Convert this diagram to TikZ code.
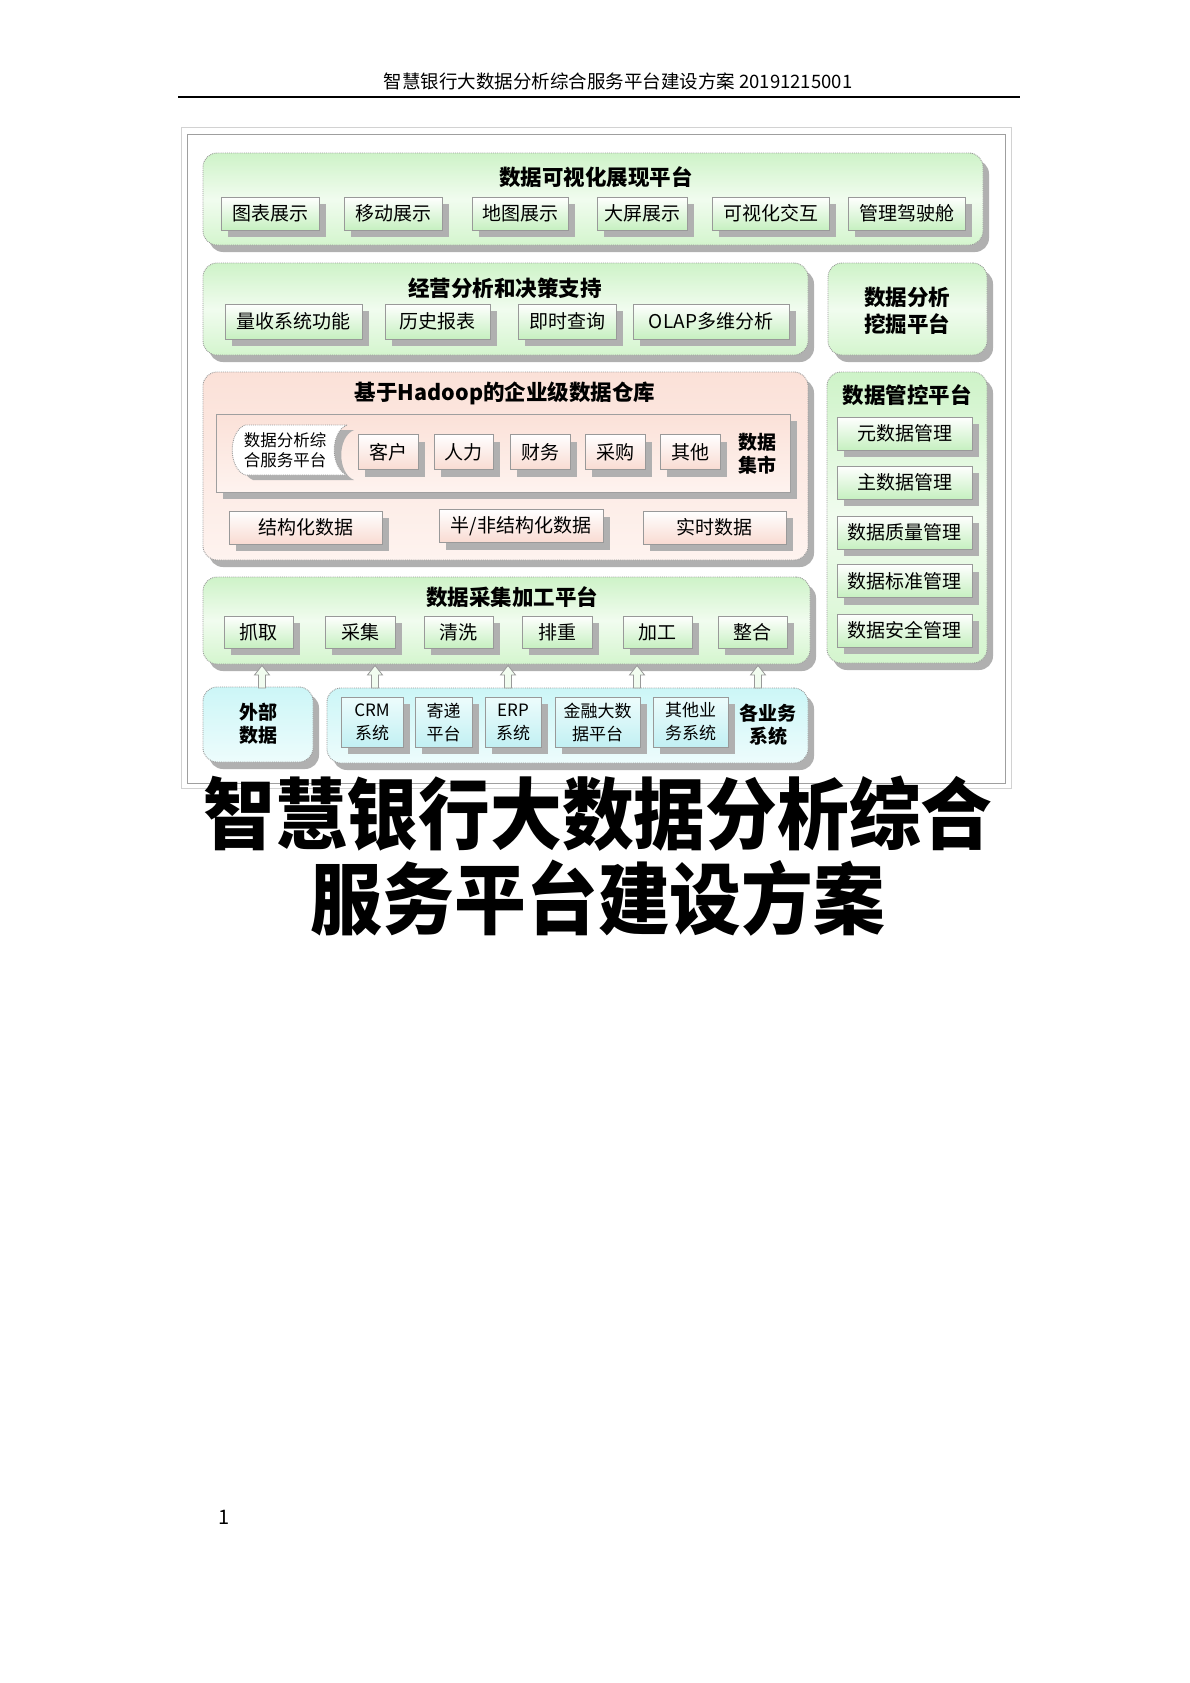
\documentclass[tikz,border=0pt]{standalone}
\usepackage{fontspec}
\setmainfont{Noto Sans CJK SC}
\usetikzlibrary{shadows,fit}

\definecolor{grntop}{RGB}{206,243,200}
\definecolor{grnmid}{RGB}{241,252,239}
\definecolor{grnbot}{RGB}{212,245,206}
\definecolor{grnbox}{RGB}{198,240,192}
\definecolor{pnktop}{RGB}{251,225,216}
\definecolor{pnkbot}{RGB}{254,243,239}
\definecolor{pnkbox}{RGB}{249,219,210}
\definecolor{cyntop}{RGB}{204,246,247}
\definecolor{cynbot}{RGB}{237,252,252}
\definecolor{cynbox}{RGB}{194,240,243}
\definecolor{shadowgray}{RGB}{176,176,176}

\tikzset{
  panel/.style={draw=gray!80, densely dotted, line width=0.9pt, rounded corners=14pt, inner sep=0pt,
    drop shadow={shadow xshift=6pt, shadow yshift=-7pt, fill=shadowgray, opacity=1}},
  greenpanel/.style={panel, top color=grntop, bottom color=grnbot, middle color=grnmid},
  pinkpanel/.style={panel, top color=pnktop, bottom color=pnkbot},
  cyanpanel/.style={panel, top color=cyntop, bottom color=cynbot},
  box/.style={draw=gray!80, solid, line width=0.9pt, inner sep=0pt, font=\fontsize{19}{22}\selectfont,
    drop shadow={shadow xshift=7pt, shadow yshift=-7pt, fill=shadowgray, opacity=1}},
  greenbox/.style={box, top color=white, bottom color=grnbox},
  pinkbox/.style={box, top color=white, bottom color=pnkbox},
  cyanbox/.style={box, top color=cynbot, bottom color=cynbox, align=center, font=\fontsize{17}{23}\selectfont},
  ptitle/.style={font=\bfseries\fontsize{21.5}{24}\selectfont},
  btext/.style={font=\bfseries\fontsize{19}{23}\selectfont, align=center},
  uparrow/.style={draw=gray!80, fill=grnmid, line width=0.8pt, line join=miter}
}

\begin{document}
\begin{tikzpicture}[x=1pt,y=-1pt]
	\useasboundingbox (0,0) rectangle (1190,1683);
	\fill[white] (0,0) rectangle (1190,1683);

	% page head
	\node[font=\fontsize{18.5}{22}\selectfont] (head) at (618,81) {智慧银行大数据分析综合服务平台建设方案 20191215001};
	\draw[line width=2pt] (178,97) -- (1020,97);

	% picture frame
	\draw[gray!35, line width=1pt] (181,128) rectangle (1011,788);
	\draw[gray!75, line width=1pt] (187,135) rectangle (1005,783);

	% visualisation
	\node[greenpanel, fit={(203,153) (983,245)}] (viz) {};
	\node[ptitle] (viztitle) at (596,177) {数据可视化展现平台};
	\node[greenbox, minimum width=98pt, minimum height=33pt] (chart) at (270,213.5) {图表展示};
	\node[greenbox, minimum width=98pt, minimum height=33pt] (mobile) at (393,213.5) {移动展示};
	\node[greenbox, minimum width=96pt, minimum height=33pt] (map) at (520,213.5) {地图展示};
	\node[greenbox, minimum width=90pt, minimum height=33pt] (screen) at (642,213.5) {大屏展示};
	\node[greenbox, minimum width=117pt, minimum height=33pt] (interact) at (770.5,213.5) {可视化交互};
	\node[greenbox, minimum width=117pt, minimum height=33pt] (cockpit) at (906.5,213.5) {管理驾驶舱};

	% decision support
	\node[greenpanel, fit={(203,263) (808,355)}] (decision) {};
	\node[ptitle] (dectitle) at (505,288) {经营分析和决策支持};
	\node[greenbox, minimum width=137pt, minimum height=35pt] (volume) at (293.5,321.5) {量收系统功能};
	\node[greenbox, minimum width=105pt, minimum height=35pt] (history) at (437.5,321.5) {历史报表};
	\node[greenbox, minimum width=98pt, minimum height=35pt] (query) at (567,321.5) {即时查询};
	\node[greenbox, minimum width=156pt, minimum height=35pt] (olap) at (711,321.5) {OLAP多维分析};

	% mining
	\node[greenpanel, fit={(828,263) (987,355)}] (mining) {};
	\node[ptitle, align=center, font=\bfseries\fontsize{21.5}{27}\selectfont] (mintitle) at (907,311) {数据分析\\挖掘平台};

	% warehouse
	\node[pinkpanel, fit={(203,372) (808,560)}] (warehouse) {};
	\node[ptitle] (whtitle) at (505,393) {基于Hadoop的企业级数据仓库};
	\node[draw=gray!75, line width=0.9pt, inner sep=0pt, top color=pnktop, bottom color=pnkbot,
		drop shadow={shadow xshift=7pt, shadow yshift=-7pt, fill=shadowgray, opacity=1},
		fit={(216,414) (790,492)}] (mart) {};
	\fill[shadowgray] (354,430) -- (253,430) .. controls (236,437) and (236,473) .. (253,480)
		-- (354,480) .. controls (337,473) and (337,437) .. (354,430) -- cycle;
	\draw[gray!80, densely dotted, line width=0.9pt, fill=white] (347,425) -- (245,425)
		.. controls (228,432) and (228,468) .. (245,475) -- (347,475)
		.. controls (330,468) and (330,432) .. (347,425) -- cycle;
	\node[align=center, font=\fontsize{16.5}{20}\selectfont] (platform) at (285,450) {数据分析综\\合服务平台};
	\node[pinkbox, minimum width=60pt, minimum height=35pt] (customer) at (388,452) {客户};
	\node[pinkbox, minimum width=59pt, minimum height=35pt] (staff) at (463.5,452) {人力};
	\node[pinkbox, minimum width=60pt, minimum height=35pt] (finance) at (540,452) {财务};
	\node[pinkbox, minimum width=60pt, minimum height=35pt] (purchase) at (615,452) {采购};
	\node[pinkbox, minimum width=60pt, minimum height=35pt] (other) at (690,452) {其他};
	\node[btext] (marttext) at (757,454) {数据\\集市};
	\node[pinkbox, minimum width=153pt, minimum height=33pt] (struct) at (305.5,527.5) {结构化数据};
	\node[pinkbox, minimum width=164pt, minimum height=33pt] (semi) at (521,526) {半/非结构化数据};
	\node[pinkbox, minimum width=143pt, minimum height=33pt] (realtime) at (714.5,527.5) {实时数据};

	% governance
	\node[greenpanel, fit={(827,372) (987,663)}] (govern) {};
	\node[ptitle] (govtitle) at (907,395) {数据管控平台};
	\node[greenbox, minimum width=135pt, minimum height=33pt] (meta) at (904.5,433.5) {元数据管理};
	\node[greenbox, minimum width=135pt, minimum height=33pt] (master) at (904.5,482.5) {主数据管理};
	\node[greenbox, minimum width=135pt, minimum height=33pt] (quality) at (904.5,532.5) {数据质量管理};
	\node[greenbox, minimum width=135pt, minimum height=33pt] (standard) at (904.5,581) {数据标准管理};
	\node[greenbox, minimum width=135pt, minimum height=33pt] (security) at (904.5,630.5) {数据安全管理};

	% collection
	\node[greenpanel, fit={(203,577) (810,664)}] (collect) {};
	\node[ptitle] (coltitle) at (512,597) {数据采集加工平台};
	\node[greenbox, minimum width=69pt, minimum height=32pt] (grab) at (258.5,632) {抓取};
	\node[greenbox, minimum width=70pt, minimum height=32pt] (gather) at (360,632) {采集};
	\node[greenbox, minimum width=69pt, minimum height=32pt] (clean) at (458.5,632) {清洗};
	\node[greenbox, minimum width=70pt, minimum height=32pt] (dedup) at (557,632) {排重};
	\node[greenbox, minimum width=69pt, minimum height=32pt] (process) at (657.5,632) {加工};
	\node[greenbox, minimum width=69pt, minimum height=32pt] (merge) at (752.5,632) {整合};

	% sources
	\node[cyanpanel, fit={(203,687) (313,762)}] (external) {};
	\node[btext] (exttext) at (258,724) {外部\\数据};
	\node[cyanpanel, fit={(327,688) (808,763)}] (business) {};
	\node[cyanbox, minimum width=62pt, minimum height=50pt] (crm) at (372,722) {CRM\\系统};
	\node[cyanbox, minimum width=57pt, minimum height=50pt] (post) at (443.5,722) {寄递\\平台};
	\node[cyanbox, minimum width=56pt, minimum height=50pt] (erp) at (513,722) {ERP\\系统};
	\node[cyanbox, minimum width=85pt, minimum height=50pt] (bigdata) at (597.5,722) {金融大数\\据平台};
	\node[cyanbox, minimum width=75pt, minimum height=50pt] (otherbiz) at (690.5,722) {其他业\\务系统};
	\node[btext] (biztext) at (768,725) {各业务\\系统};

	% arrows up
	\foreach \x in {262,375,508,637,758}
		\draw[uparrow] (\x-3.5,688) -- (\x-3.5,675) -- (\x-7.5,675) -- (\x,665.5)
			-- (\x+7.5,675) -- (\x+3.5,675) -- (\x+3.5,688) -- cycle;

	% title
	\node[font=\bfseries\fontsize{78}{85}\selectfont, align=center, xscale=0.92, transform shape] (title) at (598,856) {智慧银行大数据分析综合\\服务平台建设方案};

	\node[font=\fontsize{20}{22}\selectfont] (pagenum) at (224,1517) {1};
\end{tikzpicture}
\end{document}
